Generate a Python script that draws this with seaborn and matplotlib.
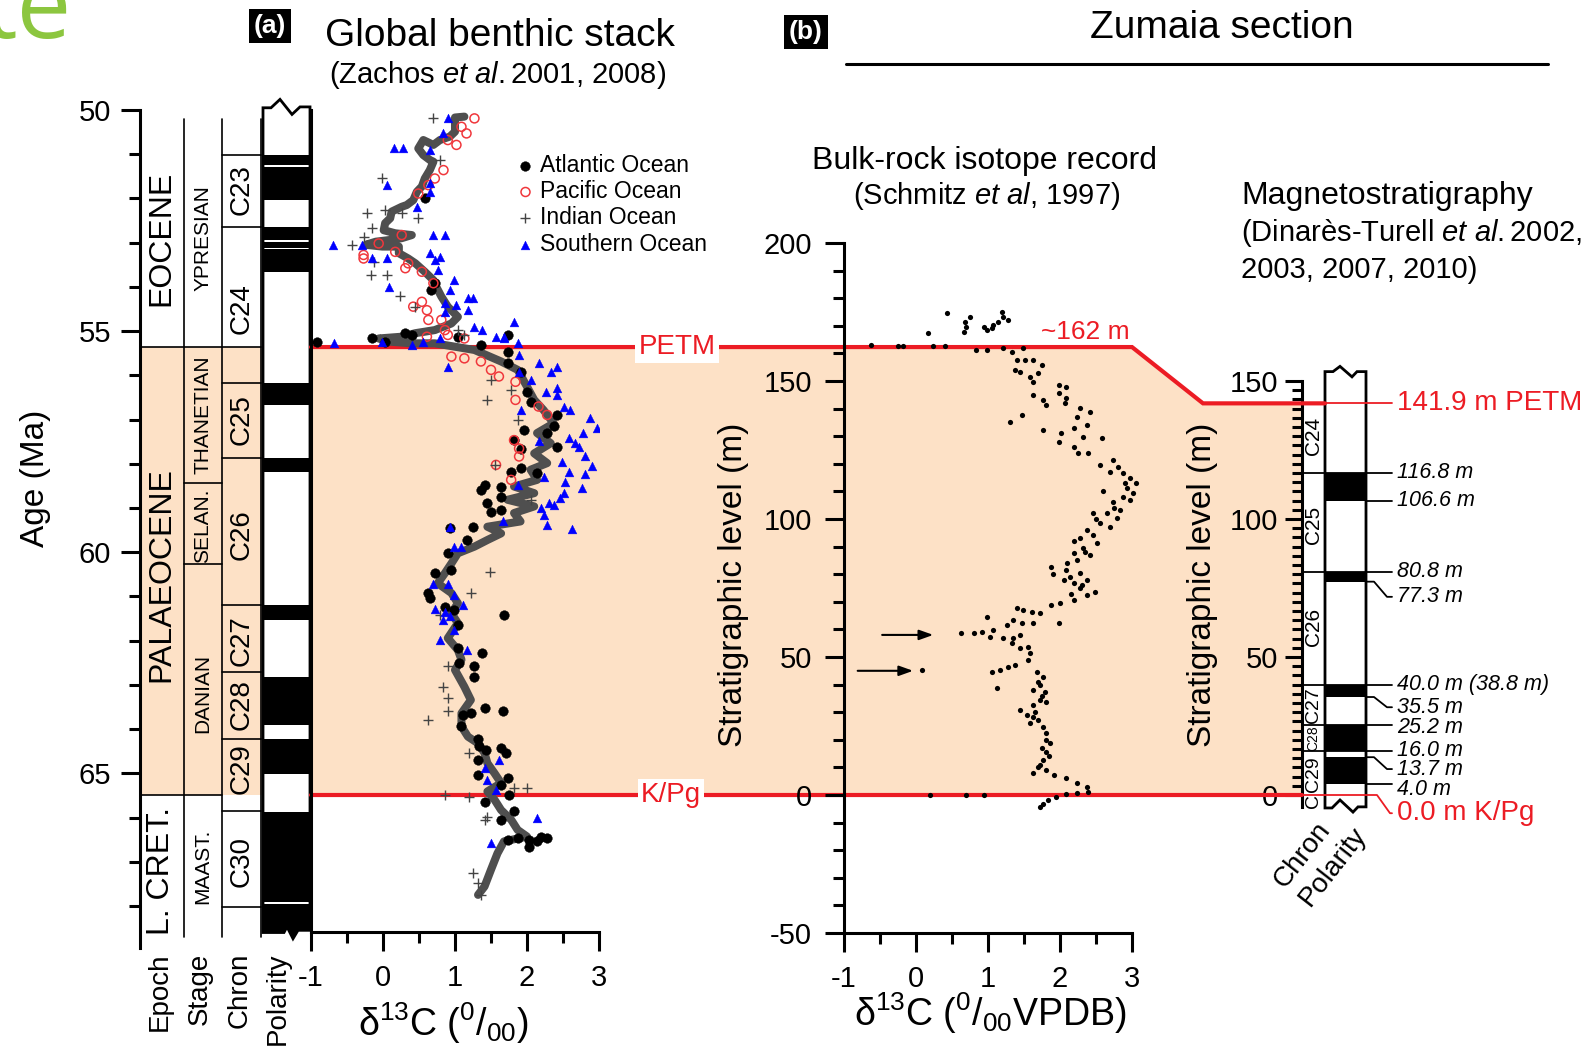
import numpy as np
import pandas as pd
import matplotlib
matplotlib.use("Agg")
import matplotlib.pyplot as plt
import seaborn as sns
from matplotlib.patches import Rectangle, Polygon
from matplotlib.lines import Line2D
from matplotlib.transforms import blended_transform_factory
from matplotlib.ticker import MultipleLocator, FixedLocator

# ----------------------------------------------------------------- data
# Panel (a): global benthic stack, (d13C permil, age Ma)
SMOOTH_CURVE = [
    (1.13, 50.15), (1.00, 50.17), (1.00, 50.49), (0.93, 50.60), (0.79, 50.68), (0.70, 50.79),
    (0.56, 50.68), (0.49, 50.87), (0.56, 51.02), (0.65, 51.13), (0.70, 51.17), (0.65, 51.36),
    (0.58, 51.55), (0.54, 51.73), (0.47, 51.85), (0.42, 52.04), (0.33, 52.15), (0.26, 52.19),
    (0.12, 52.30), (0.10, 52.45), (0.03, 52.56), (0.01, 52.72), (0.17, 52.79), (0.40, 52.83),
    (0.26, 52.90), (0.10, 52.94), (-0.10, 52.98), (-0.24, 53.05), (-0.01, 53.09), (0.22, 53.09),
    (0.22, 53.24), (0.35, 53.36), (0.45, 53.47), (0.58, 53.66), (0.70, 53.85), (0.74, 54.00),
    (0.81, 54.22), (0.90, 54.45), (1.04, 54.68), (0.95, 54.83), (0.72, 54.98), (0.45, 55.05),
    (0.26, 55.13), (-0.06, 55.17), (0.08, 55.24), (0.40, 55.28), (0.72, 55.28), (1.27, 55.43),
    (1.64, 55.69), (1.87, 55.88), (2.00, 56.26), (2.10, 56.56), (2.23, 56.79), (2.37, 57.09),
    (2.14, 57.31), (2.33, 57.54), (2.10, 57.77), (2.28, 57.99), (2.05, 58.14), (2.14, 58.37),
    (1.82, 58.52), (2.10, 58.67), (1.73, 58.82), (2.10, 58.97), (1.82, 59.12), (1.91, 59.31),
    (1.45, 59.43), (1.64, 59.58), (1.45, 59.73), (1.27, 59.88), (1.04, 60.03), (0.95, 60.26),
    (0.86, 60.48), (0.76, 60.71), (0.95, 60.93), (1.04, 61.16), (0.95, 61.39), (1.04, 61.61),
    (0.90, 61.95), (1.04, 62.22), (1.09, 62.44), (1.00, 62.67), (1.13, 63.05), (1.22, 63.35),
    (1.09, 63.65), (1.09, 63.95), (1.18, 64.18), (1.32, 64.33), (1.41, 64.55), (1.45, 64.78),
    (1.55, 65.01), (1.64, 65.23), (1.45, 65.42), (1.55, 65.61), (1.64, 65.84), (1.78, 66.06),
    (1.87, 66.29), (2.00, 66.44), (1.68, 66.55), (1.59, 66.82), (1.50, 67.19), (1.41, 67.57),
    (1.32, 67.76),
]
ATLANTIC = [
    (0.58, 52.00), (0.72, 53.92), (0.67, 54.07), (-0.15, 55.17), (0.03, 55.24), (0.31, 55.05),
    (0.40, 55.09), (1.73, 55.09), (-0.91, 55.24), (1.04, 55.13), (1.36, 55.32), (1.73, 55.47),
    (1.73, 55.73), (1.91, 55.92), (2.00, 56.37), (2.05, 56.60), (2.42, 56.90), (2.37, 57.16),
    (1.96, 57.24), (2.28, 57.31), (1.82, 57.47), (2.42, 57.62), (1.91, 57.66), (1.91, 58.11),
    (2.14, 58.22), (1.78, 58.18), (1.41, 58.48), (1.36, 58.60), (1.64, 58.52), (1.64, 58.75),
    (1.45, 58.90), (1.50, 59.09), (1.64, 59.05), (0.93, 59.46), (1.25, 59.43), (1.16, 59.74),
    (0.90, 60.03), (0.72, 60.48), (0.95, 60.41), (0.63, 60.93), (0.65, 61.05), (0.86, 61.24),
    (0.99, 61.31), (1.68, 61.43), (1.04, 61.65), (1.04, 62.18), (1.38, 62.28), (1.06, 62.52),
    (1.27, 62.58), (1.27, 62.82), (1.11, 63.69), (1.22, 63.65), (1.41, 63.54), (1.66, 63.60),
    (1.09, 63.94), (1.32, 64.24), (1.34, 64.40), (1.43, 64.48), (1.64, 64.44), (1.71, 64.55),
    (1.32, 64.71), (1.32, 65.05), (1.73, 65.12), (1.64, 65.27), (1.75, 65.50), (1.41, 65.65),
    (1.64, 66.06), (1.82, 65.87), (1.73, 66.52), (1.87, 66.48), (2.03, 66.52), (2.03, 66.67),
    (2.19, 66.44), (2.28, 66.48), (2.14, 66.55),
]
PACIFIC = [
    (1.27, 50.19), (1.09, 50.38), (1.16, 50.53), (0.90, 50.68), (1.02, 50.79), (0.84, 51.36),
    (0.72, 51.55), (0.63, 51.70), (0.49, 51.89), (0.26, 52.83), (-0.06, 53.02), (-0.27, 53.28),
    (-0.27, 53.36), (0.17, 53.21), (0.31, 53.58), (0.35, 53.47), (0.54, 53.66), (0.70, 53.92),
    (0.54, 54.34), (0.42, 54.45), (0.61, 54.53), (0.63, 54.75), (0.81, 54.75), (0.86, 54.98),
    (0.61, 55.13), (1.13, 55.17), (0.90, 55.09), (0.95, 55.58), (1.13, 55.62), (1.36, 55.69),
    (1.50, 55.88), (1.61, 56.03), (1.84, 56.15), (1.84, 56.56), (2.16, 56.71), (2.28, 56.90),
    (1.82, 57.47), (1.89, 57.66), (1.89, 57.84), (1.57, 58.03), (1.78, 58.37),
]
INDIAN = [
    (0.70, 50.19), (0.79, 51.13), (-0.01, 51.55), (0.03, 52.26), (-0.22, 52.34), (0.26, 52.34),
    (0.49, 52.45), (-0.15, 52.68), (-0.27, 52.87), (-0.43, 53.05), (-0.13, 53.43), (-0.17, 53.73),
    (0.06, 53.73), (0.24, 54.22), (0.45, 54.45), (1.04, 54.98), (1.13, 55.09), (1.50, 56.11),
    (1.78, 56.33), (1.45, 56.56), (1.87, 57.01), (1.55, 58.03), (2.05, 58.82), (1.48, 60.45),
    (1.22, 60.93), (0.79, 61.43), (0.90, 62.59), (0.84, 63.05), (0.90, 63.31), (0.90, 63.61),
    (0.63, 63.80), (1.20, 64.55), (0.86, 65.50), (1.20, 65.54), (1.82, 65.35), (2.00, 65.35),
    (1.41, 66.06), (1.45, 65.99), (1.25, 67.27), (1.32, 67.50), (1.36, 67.76),
]
SOUTHERN = [
    (0.90, 50.19), (0.83, 50.53), (0.15, 50.87), (0.28, 50.87), (0.65, 50.91), (0.06, 51.70),
    (0.65, 51.66), (0.65, 51.85), (0.47, 52.19), (-0.70, 53.05), (-0.29, 53.05), (0.70, 52.83),
    (0.86, 52.83), (-0.15, 53.36), (0.06, 53.36), (0.65, 53.24), (0.79, 53.32), (0.72, 53.39),
    (0.77, 53.62), (0.99, 53.85), (0.08, 54.00), (0.93, 54.07), (1.18, 54.26), (1.25, 54.26),
    (0.86, 54.37), (1.02, 54.41), (1.18, 54.53), (0.86, 54.56), (1.82, 54.79), (1.27, 54.90),
    (1.38, 54.98), (1.57, 55.13), (1.68, 55.13), (-0.68, 55.28), (-0.01, 55.24), (0.56, 55.24),
    (0.79, 55.17), (1.87, 55.28), (0.90, 55.81), (0.40, 55.32), (1.68, 55.16), (1.89, 55.54),
    (2.16, 55.73), (2.42, 55.81), (2.33, 55.92), (1.89, 55.92), (2.05, 56.11), (2.26, 56.37),
    (2.42, 56.30), (2.42, 56.45), (1.91, 56.79), (2.51, 56.71), (2.60, 56.79), (2.88, 56.98),
    (2.97, 57.20), (2.78, 57.31), (2.58, 57.43), (2.67, 57.54), (2.72, 57.62), (2.16, 57.50),
    (2.81, 57.84), (2.49, 57.96), (2.90, 58.05), (2.58, 58.18), (2.81, 58.24), (2.23, 58.30),
    (2.53, 58.41), (1.87, 58.48), (2.76, 58.56), (2.51, 58.67), (2.46, 58.79), (2.30, 58.90),
    (2.37, 58.94), (2.19, 59.01), (2.23, 59.16), (1.66, 59.31), (2.28, 59.39), (2.62, 59.49),
    (0.93, 59.44), (0.99, 59.88), (1.09, 59.88), (0.70, 60.72), (0.90, 60.72), (0.99, 60.97),
    (1.11, 61.20), (0.72, 61.30), (0.86, 61.35), (0.84, 61.54), (0.93, 61.46), (0.99, 61.76),
    (0.79, 61.99), (1.16, 62.22), (1.61, 64.71), (1.41, 64.89), (1.45, 65.16), (1.57, 65.38),
    (2.14, 66.02), (1.50, 66.59),
]
OCEAN_LABELS = ["Atlantic Ocean", "Pacific Ocean", "Indian Ocean", "Southern Ocean"]

# Stratigraphic columns of panel (a) (ages in Ma)
PETM_AGE, KPG_AGE = 55.36, 65.50
EPOCH_NAMES = ["EOCENE", "PALAEOCENE", "L. CRET."]
EPOCH_LABEL_AGE = [52.9, 60.5, 67.2]
STAGE_BOUNDS = [55.36, 58.44, 60.27, 65.50]
STAGE_NAMES = ["YPRESIAN", "THANETIAN", "SELAN.", "DANIAN", "MAAST."]
STAGE_LABEL_AGE = [52.9, 56.9, 59.4, 63.2, 67.1]
CHRON_BOUNDS = [51.02, 52.65, 56.18, 57.87, 61.20, 62.71, 64.23, 65.86, 68.03]
CHRON_NAMES = ["C23", "C24", "C25", "C26", "C27", "C28", "C29", "C30"]
CHRON_LABEL_AGE = [51.8, 54.5, 57.0, 59.6, 62.0, 63.45, 64.9, 67.0]
NORMAL_POLARITY_AGE = [
    (51.02, 51.24), (51.30, 52.04), (52.65, 52.94), (52.98, 53.11), (53.15, 53.67),
    (56.18, 56.67), (57.87, 58.19), (61.20, 61.54), (62.83, 63.91), (64.23, 65.02),
    (65.88, 67.90), (67.96, 69.00),
]

# Panel (b): Zumaia bulk-rock d13C (permil VPDB, stratigraphic level m)
BULK_ROCK = [
    (0.43, 174.5), (0.75, 173.3), (0.68, 171.5), (0.70, 169.7), (0.66, 167.9), (0.17, 167.3),
    (1.19, 175.1), (1.21, 173.3), (1.14, 171.5), (1.28, 172.1), (1.07, 170.3), (0.94, 169.7),
    (0.98, 168.5), (1.05, 169.1), (-0.62, 163.0), (-0.25, 162.7), (-0.18, 162.7), (0.24, 162.7),
    (0.40, 162.7), (0.84, 161.2), (0.98, 161.2), (1.21, 161.8), (1.33, 160.6), (1.49, 161.8),
    (1.40, 157.6), (1.51, 157.6), (1.63, 157.6), (1.75, 155.8), (1.38, 154.0), (1.44, 153.4),
    (1.58, 151.6), (1.70, 152.8), (1.63, 149.8), (1.98, 148.6), (2.09, 148.0), (1.98, 145.5),
    (2.09, 143.7), (1.63, 144.9), (1.77, 143.1), (1.81, 141.3), (2.07, 141.9), (2.28, 140.1),
    (2.42, 138.9), (2.23, 137.1), (2.37, 134.1), (1.47, 137.7), (1.31, 135.3), (2.19, 132.9),
    (1.77, 132.3), (2.02, 131.0), (2.32, 129.8), (2.58, 129.2), (1.98, 128.0), (2.19, 126.2),
    (2.25, 123.8), (2.39, 123.8), (2.56, 119.6), (2.74, 121.4), (2.81, 119.0), (2.69, 117.2),
    (2.88, 116.5), (2.97, 114.7), (3.06, 112.9), (2.93, 111.1), (3.02, 109.3), (2.88, 108.1),
    (2.97, 106.9), (2.74, 106.3), (2.83, 103.3), (2.65, 102.1), (2.46, 102.1), (2.79, 100.2),
    (2.56, 98.4), (2.69, 97.2), (2.37, 96.0), (2.46, 94.2), (2.28, 93.0), (2.51, 91.2),
    (2.32, 89.4), (2.19, 87.6), (2.42, 87.0), (2.23, 85.1), (1.88, 82.7), (2.09, 81.5),
    (2.28, 80.3), (2.14, 79.1), (2.37, 77.9), (2.19, 76.7), (2.28, 74.9), (2.49, 73.7),
    (2.37, 72.5), (2.19, 70.7), (2.00, 69.5), (1.88, 68.8), (1.98, 62.2), (1.72, 65.8),
    (1.61, 66.4), (1.49, 67.0), (1.40, 67.6), (1.63, 62.2), (1.35, 63.4), (1.47, 62.2),
    (1.26, 61.6), (0.98, 64.6), (0.63, 58.6), (0.80, 58.6), (0.91, 59.2), (1.03, 57.4),
    (1.07, 59.8), (1.21, 56.8), (1.35, 56.8), (1.44, 58.0), (1.33, 55.0), (1.44, 53.1),
    (1.56, 53.7), (1.58, 51.3), (1.56, 48.9), (1.38, 47.1), (1.28, 46.5), (1.17, 45.3),
    (1.05, 44.7), (0.08, 45.3), (1.68, 44.7), (1.77, 42.9), (1.72, 39.8), (1.79, 37.4),
    (1.63, 38.0), (1.12, 38.6), (1.72, 34.4), (1.81, 33.8), (1.63, 32.6), (1.44, 30.8),
    (1.54, 29.0), (1.63, 28.4), (1.58, 26.0), (1.77, 24.7), (1.81, 22.3), (1.86, 18.7),
    (1.81, 15.7), (1.77, 12.7), (1.70, 10.3), (1.63, 7.9), (1.91, 7.2), (2.09, 6.0),
    (2.23, 4.2), (2.37, 3.0), (2.39, 1.2), (2.23, 0.8), (2.09, 0.4), (1.95, -0.6),
    (1.84, -1.8), (1.77, -3.3), (1.72, -4.2), (0.19, 0.0), (0.70, 0.0), (0.94, 0.0),
    (2.60, 110.0), (2.75, 104.0), (2.90, 113.0), (2.50, 100.0), (2.20, 92.0), (2.35, 88.0),
    (2.10, 84.0), (2.05, 78.0), (2.30, 76.0), (1.90, 80.0), (2.15, 73.0), (1.70, 41.0),
    (1.75, 36.0), (1.65, 30.0), (1.70, 27.0), (1.80, 20.0), (1.75, 17.0), (1.85, 14.0),
    (1.72, 11.0), (1.80, 9.0),
]
ARROWS = [(-0.47, 0.24, 58.0), (-0.81, -0.04, 45.0)]   # (from d13C, to d13C, level m)
PETM_M, KPG_M, PETM_ZUMAIA = 162.3, 0.0, 141.9

# Zumaia magnetostratigraphy (m)
ZUM_CHRON_NAMES = ["C24", "C25", "C26", "C27", "C28", "C29", "C"]
ZUM_CHRON_LABEL_M = [130.0, 98.0, 61.0, 32.5, 20.5, 7.5, -2.0]
ZUM_CHRON_SIZE = [15, 15, 15, 14, 10, 14, 14]
ZUM_NORMAL = [(116.8, 106.6), (80.8, 77.3), (40.0, 35.5), (25.2, 16.0), (13.7, 4.0)]
ZUM_LEVELS = [116.8, 106.6, 80.8, 77.3, 40.0, 35.5, 25.2, 16.0, 13.7, 4.0]
ZUM_LEVEL_TEXT = ["116.8 m", "106.6 m", "80.8 m", "77.3 m", "40.0 m (38.8 m)", "35.5 m",
                  "25.2 m", "16.0 m", "13.7 m", "4.0 m"]
ZUM_TEXT_M = [116.8, 106.6, 80.8, 71.8, 40.0, 31.8, 24.6, 16.3, 9.4, 2.0]
ZUM_CROSS_CHRON = [True, False, True, False, True, False, True, True, False, False]

# ----------------------------------------------------------------- style
sns.set_theme(style="ticks")
plt.rcParams["font.family"] = ["Liberation Sans", "DejaVu Sans"]
plt.rcParams.update({
    "mathtext.fontset": "custom",
    "mathtext.rm": "Liberation Sans",
    "mathtext.it": "Liberation Sans:italic",
    "mathtext.bf": "Liberation Sans:bold",
    "axes.unicode_minus": False,
    "text.color": "black", "axes.labelcolor": "black",
    "xtick.color": "black", "ytick.color": "black", "axes.edgecolor": "black",
})
PEACH = "#FDE1C6"
RED = "#EC1C24"
W, H = 1595, 1046
fig = plt.figure(figsize=(W / 100, H / 100), dpi=100)


def box(l, t, r, b):
    return [l / W, 1 - b / H, (r - l) / W, (b - t) / H]


ax_col = fig.add_axes(box(140, 110, 310, 948))
ax_a = fig.add_axes(box(311, 110, 599, 932))
axb = fig.add_axes(box(844, 243, 1132, 933))
ax_m = fig.add_axes(box(1302, 243, 1366, 933))
for ax in (ax_col, ax_a, axb, ax_m):
    ax.set_facecolor("none")
ax_a.set_zorder(2)
axb.set_zorder(2)

ax_col.set_xlim(0, 170)
ax_col.set_ylim(68.95, 50)
ax_a.set_xlim(-1, 3)
ax_a.set_ylim(68.6, 50)
axb.set_xlim(-1, 3)
axb.set_ylim(-50, 200)
ax_m.set_xlim(0, 64)
ax_m.set_ylim(-50, 200)

SPW = 2.2
TICK_FS = 21


def ticks(ax, axis, pad, major=14, minor=8):
    ax.tick_params(axis=axis, which="major", direction="out", length=major, width=SPW,
                   labelsize=TICK_FS, pad=pad)
    ax.tick_params(axis=axis, which="minor", direction="out", length=minor, width=SPW)


# ---------------- background shading + red lines (figure level)
to_fig = fig.transFigure.inverted()


def fig_x(ax, x):
    return to_fig.transform(ax.transData.transform((x, 0)))[0]


tr = blended_transform_factory(fig.transFigure, axb.transData)
x_col, x_a, x_b3 = fig_x(ax_col, 0), fig_x(ax_a, -1), fig_x(axb, 3)
x_mag, x_polL = fig_x(ax_m, 0), fig_x(ax_m, 23)
x_bend = 1203 / W
fig.add_artist(Polygon([(x_col, KPG_M), (x_col, PETM_M), (x_b3, PETM_M), (x_bend, PETM_ZUMAIA),
                        (x_mag, PETM_ZUMAIA), (x_mag, KPG_M)], closed=True, transform=tr,
                       facecolor=PEACH, edgecolor="none", zorder=-1))
fig.add_artist(Line2D([x_a, x_b3, x_bend, x_polL], [PETM_M, PETM_M, PETM_ZUMAIA, PETM_ZUMAIA],
                      transform=tr, color=RED, lw=3, zorder=1, solid_joinstyle="miter"))
fig.add_artist(Line2D([x_a, x_mag], [KPG_M, KPG_M], transform=tr, color=RED, lw=3, zorder=1))
fig.text(677 / W, PETM_M, "PETM", transform=tr, color=RED, fontsize=20, ha="center", va="center",
         zorder=3, bbox=dict(facecolor="white", edgecolor="none", boxstyle="square,pad=0.12"))
fig.text(671 / W, KPG_M, "K/Pg", transform=tr, color=RED, fontsize=20, ha="center", va="center",
         zorder=3, bbox=dict(facecolor="white", edgecolor="none", boxstyle="square,pad=0.12"))

# ---------------- panel (a) stratigraphic columns
LW = 1.2
for xv, top in ((44, 50.2), (82, 50.2), (121, 50.2)):
    ax_col.plot([xv, xv], [top, 68.7], color="black", lw=LW, zorder=2)
ax_col.plot([0, 121], [PETM_AGE, PETM_AGE], color="black", lw=LW, zorder=2)
ax_col.plot([0, 82], [KPG_AGE, KPG_AGE], color="black", lw=LW, zorder=2)
for b in STAGE_BOUNDS[1:3]:
    ax_col.plot([44, 82], [b, b], color="black", lw=LW, zorder=2)
for b in CHRON_BOUNDS:
    ax_col.plot([82, 121], [b, b], color="black", lw=LW, zorder=2)
for name, a in zip(EPOCH_NAMES, EPOCH_LABEL_AGE):
    ax_col.text(21, a, name, rotation=90, ha="center", va="center", fontsize=23)
for name, a in zip(STAGE_NAMES, STAGE_LABEL_AGE):
    ax_col.text(63, a, name, rotation=90, ha="center", va="center", fontsize=15)
for name, a in zip(CHRON_NAMES, CHRON_LABEL_AGE):
    ax_col.text(102, a, name, rotation=90, ha="center", va="center", fontsize=20)

pol_top = [(123, 49.95), (131, 49.95), (140, 49.76), (152, 50.10), (160, 49.93), (170, 49.93)]
pol_bot = [(170, 68.55), (158, 68.55), (153, 68.74), (147, 68.47), (144, 68.6), (123, 68.6)]
pol = Polygon(pol_top + pol_bot, closed=True, facecolor="white", edgecolor="black", lw=2,
              zorder=2, clip_on=False)
ax_col.add_patch(pol)
for t, b in NORMAL_POLARITY_AGE:
    r = Rectangle((123, t), 47, b - t, facecolor="black", edgecolor="none", zorder=2.5)
    ax_col.add_patch(r)
    r.set_clip_path(pol)

ax_col.spines[["top", "right", "bottom"]].set_visible(False)
ax_col.spines["left"].set_linewidth(SPW)
ax_col.set_xticks([])
ax_col.set_yticks([50, 55, 60, 65])
ax_col.yaxis.set_minor_locator(MultipleLocator(1))
ticks(ax_col, "y", 7)
ax_col.set_ylabel("Age (Ma)", fontsize=24, va="center")
ax_col.yaxis.set_label_coords(-0.612, 0.561)
for name, xv in zip(["Epoch", "Stage", "Chron", "Polarity"], [20, 60, 100, 138]):
    ax_col.text(xv, 69.05, name, rotation=90, ha="center", va="top", fontsize=20, clip_on=False)

# ---------------- panel (a) data
df_curve = pd.DataFrame(SMOOTH_CURVE, columns=["d13c", "age"])
sns.lineplot(data=df_curve, x="d13c", y="age", sort=False, estimator=None, orient="y",
             color="#4f4f4f", lw=5.8, ax=ax_a, zorder=2)
df_atl = pd.DataFrame(ATLANTIC, columns=["d13c", "age"])
df_pac = pd.DataFrame(PACIFIC, columns=["d13c", "age"])
df_ind = pd.DataFrame(INDIAN, columns=["d13c", "age"])
df_sou = pd.DataFrame(SOUTHERN, columns=["d13c", "age"])
sns.scatterplot(data=df_atl, x="d13c", y="age", marker="o", s=48, color="black",
                edgecolor="black", linewidth=0.3, label=OCEAN_LABELS[0], ax=ax_a, zorder=3)
sns.scatterplot(data=df_pac, x="d13c", y="age", marker="o", s=42, color="#F0373C",
                facecolor="none", edgecolor="#F0373C", linewidth=1.1, label=OCEAN_LABELS[1],
                ax=ax_a, zorder=3)
sns.scatterplot(data=df_ind, x="d13c", y="age", marker="+", s=50, color="#444444",
                linewidth=1.0, label=OCEAN_LABELS[2], ax=ax_a, zorder=3)
sns.scatterplot(data=df_sou, x="d13c", y="age", marker="^", s=40, color="#0000FF",
                edgecolor="#0000FF", linewidth=0.3, label=OCEAN_LABELS[3], ax=ax_a, zorder=3)
ax_a.legend(loc="upper left", bbox_to_anchor=(0.705, 0.947), frameon=False, fontsize=16.5,
            handletextpad=0.15, labelspacing=0.15, borderaxespad=0, borderpad=0,
            handlelength=1.0)
ax_a.spines[["top", "right"]].set_visible(False)
ax_a.spines["left"].set_linewidth(SPW)
ax_a.spines["bottom"].set_linewidth(SPW)
ax_a.set_yticks([])
ax_a.set_xticks([-1, 0, 1, 2, 3])
ax_a.xaxis.set_minor_locator(MultipleLocator(0.5))
ticks(ax_a, "x", 9)
ax_a.set_ylabel("")
ax_a.set_xlabel("δ$^{13}$C ($^{0}$/$_{00}$)", fontsize=27, va="center")
ax_a.xaxis.set_label_coords(0.458, -0.111)

# ---------------- panel (b) bulk rock
df_bulk = pd.DataFrame(BULK_ROCK, columns=["d13c", "level"])
sns.scatterplot(data=df_bulk, x="d13c", y="level", s=14, color="black", edgecolor="black",
                linewidth=0, ax=axb, legend=False, zorder=3, clip_on=False)
for x0, x1, lev in ARROWS:
    axb.annotate("", xy=(x1, lev), xytext=(x0, lev),
                 arrowprops=dict(arrowstyle="-|>,head_length=0.7,head_width=0.25",
                                 color="black", lw=1.5, shrinkA=0, shrinkB=0))
axb.text(2.35, 167.7, "~162 m", color=RED, fontsize=19, ha="center", va="center")
axb.spines[["top", "right"]].set_visible(False)
axb.spines["left"].set_linewidth(SPW)
axb.spines["bottom"].set_linewidth(SPW)
axb.set_yticks([-50, 0, 50, 100, 150, 200])
axb.yaxis.set_minor_locator(MultipleLocator(10))
axb.set_xticks([-1, 0, 1, 2, 3])
axb.xaxis.set_minor_locator(MultipleLocator(0.5))
ticks(axb, "x", 9)
ticks(axb, "y", 9)
axb.set_ylabel("Stratigraphic level (m)", fontsize=24, va="center")
axb.yaxis.set_label_coords(-0.382, 0.504)
axb.set_xlabel("δ$^{13}$C ($^{0}$/$_{00}$VPDB)", fontsize=27, va="center")
axb.xaxis.set_label_coords(0.507, -0.116)

# ---------------- magnetostratigraphy column
ztop = [(23, 153.4), (31, 153.4), (38, 155.3), (50, 151.5), (55, 153.4), (64, 153.4)]
zbot = [(64, -4.3), (56, -4.3), (51, -6.2), (38, -1.8), (30, -4.7), (23, -4.7)]
zpol = Polygon(ztop + zbot, closed=True, facecolor="white", edgecolor="black", lw=2,
               zorder=2, clip_on=False)
ax_m.add_patch(zpol)
for t, b in ZUM_NORMAL:
    r = Rectangle((23, b), 41, t - b, facecolor="black", edgecolor="none", zorder=2.5)
    ax_m.add_patch(r)
    r.set_clip_path(zpol)
for name, lev, fs in zip(ZUM_CHRON_NAMES, ZUM_CHRON_LABEL_M, ZUM_CHRON_SIZE):
    ax_m.text(11.5, lev, name, rotation=90, ha="center", va="center", fontsize=fs)
LL = 1.3
for lev, txt, ty, cross in zip(ZUM_LEVELS, ZUM_LEVEL_TEXT, ZUM_TEXT_M, ZUM_CROSS_CHRON):
    x0 = 0 if cross else 64
    if abs(ty - lev) > 2:
        xs, ys = [x0, 72, 85, 90], [lev, lev, ty, ty]
    else:
        xs, ys = [x0, 90], [lev, lev]
    ax_m.plot(xs, ys, color="black", lw=LL, clip_on=False, zorder=3)
    ax_m.text(95, ty, txt, fontsize=15.5, fontstyle="italic", ha="left", va="center",
              clip_on=False)
ax_m.plot([23, 90], [PETM_ZUMAIA, PETM_ZUMAIA], color=RED, lw=LL, clip_on=False, zorder=3)
ax_m.text(95, PETM_ZUMAIA, "141.9 m PETM", color=RED, fontsize=20, ha="left", va="center",
          clip_on=False)
ax_m.plot([0, 75, 88, 90], [KPG_M, KPG_M, -6.6, -6.6], color=RED, lw=LL, clip_on=False, zorder=3)
ax_m.text(95, -6.6, "0.0 m K/Pg", color=RED, fontsize=20, ha="left", va="center", clip_on=False)
ax_m.text(24, -10.9, "Chron", rotation=52, rotation_mode="anchor", ha="right", va="center",
          fontsize=20, clip_on=False)
ax_m.text(59, -12.7, "Polarity", rotation=52, rotation_mode="anchor", ha="right", va="center",
          fontsize=20, clip_on=False)
ax_m.spines[["top", "right", "bottom"]].set_visible(False)
ax_m.spines["left"].set_linewidth(SPW)
ax_m.spines["left"].set_bounds(-4.5, 150)
ax_m.set_xticks([])
ax_m.set_yticks([0, 50, 100, 150])
ax_m.yaxis.set_minor_locator(FixedLocator(np.arange(0, 150.1, 10 / 3)))
ticks(ax_m, "y", 5, major=12, minor=7)
ax_m.set_ylabel("Stratigraphic level (m)", fontsize=24, va="center")
ax_m.yaxis.set_label_coords(-1.547, 0.504)

# ---------------- titles
fig.text(72 / W, 1 - 38 / H, "te", ha="right", va="baseline", color="#8CC63F", fontsize=70,
         family=["Open Sans", "DejaVu Sans"])
fig.text(270 / W, 1 - 26 / H, "(a)", color="white", fontweight="bold", fontsize=19, ha="center",
         va="center", bbox=dict(facecolor="black", edgecolor="none", boxstyle="square,pad=0.2"))
fig.text(806 / W, 1 - 32 / H, "(b)", color="white", fontweight="bold", fontsize=19, ha="center",
         va="center", bbox=dict(facecolor="black", edgecolor="none", boxstyle="square,pad=0.2"))
fig.text(500 / W, 1 - 36 / H, "Global benthic stack", fontsize=28, ha="center", va="center")
fig.text(498 / W, 1 - 75 / H, r"(Zachos $\mathit{et\ al.}$2001, 2008)", fontsize=21,
         ha="center", va="center")
fig.text(1222 / W, 1 - 28 / H, "Zumaia section", fontsize=28, ha="center", va="center")
fig.add_artist(Line2D([846 / W, 1548 / W], [1 - 64 / H, 1 - 64 / H], color="black", lw=2.2))
fig.text(985 / W, 1 - 161 / H, "Bulk-rock isotope record", fontsize=23, ha="center", va="center")
fig.text(987 / W, 1 - 196 / H, r"(Schmitz $\mathit{et\ al}$, 1997)", fontsize=21, ha="center",
         va="center")
fig.text(1241 / W, 1 - 196 / H, "Magnetostratigraphy", fontsize=23, ha="left", va="center")
fig.text(1241 / W, 1 - 233 / H, r"(Dinarès-Turell $\mathit{et\ al.}$2002,", fontsize=21,
         ha="left", va="center")
fig.text(1241 / W, 1 - 270 / H, "2003, 2007, 2010)", fontsize=21, ha="left", va="center")

fig.savefig("out.png", dpi=100)
